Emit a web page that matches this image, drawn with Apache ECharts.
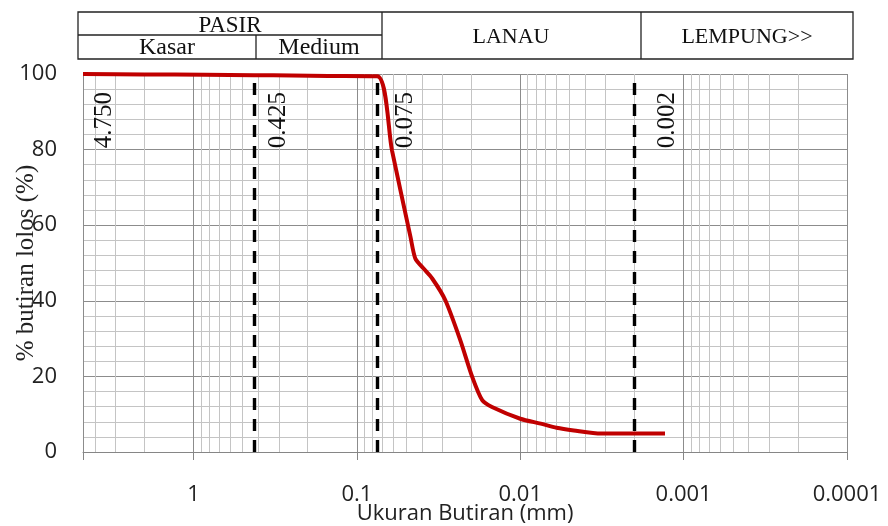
<!DOCTYPE html>
<html>
<head>
<meta charset="utf-8">
<script src="https://cdn.jsdelivr.net/npm/echarts@6/dist/echarts.min.js"></script>
<style>
  html, body { margin: 0; padding: 0; background: #ffffff; }
  #chart { width: 888px; height: 526px; }
</style>
</head>
<body>
<div id="chart"></div>
<script>
// Grain size distribution: sieve + hydrometer results
const grainSize = [4.75, 2.0, 0.85, 0.425, 0.25, 0.15, 0.075, 0.061, 0.047, 0.0439, 0.0392,
  0.0346, 0.0288, 0.0233, 0.0197, 0.0171, 0.0149, 0.0100, 0.0075, 0.0060, 0.0047, 0.0032, 0.0013];
const percentPassing = [100, 99.9, 99.8, 99.7, 99.6, 99.5, 99.4, 79.8, 56.9, 51.2, 48.6,
  45.9, 40.2, 29.6, 19.9, 13.7, 11.9, 8.8, 7.5, 6.4, 5.7, 4.9, 4.9];

// Soil class boundaries (mm)
const boundarySizes = [4.75, 0.425, 0.075, 0.002];
const boundaryLabels = ['4.750', '0.425', '0.075', '0.002'];

// Axis ticks
const xTickValues = [1, 0.1, 0.01, 0.001, 0.0001];
const xTickLabels = ['1', '0.1', '0.01', '0.001', '0.0001'];
const minorMultiples = [2, 3, 4, 5, 6, 7, 8, 9];
const yTickStep = 20;

// Header table labels
const headerSand = 'PASIR';
const headerSandParts = ['Kasar', 'Medium'];
const headerSilt = 'LANAU';
const headerClay = 'LEMPUNG>>';

const X_MIN = 0.0001, X_MAX = 4.75;

// Minor vertical grid lines at 2..9 of every decade inside the range
const minorX = [];
xTickValues.forEach(function (d) {
  minorMultiples.forEach(function (m) {
    const v = d * m;
    if (v < X_MAX) minorX.push(v);
  });
});

const serif = '"Liberation Serif", "Times New Roman", serif';
const sans = '"Open Sans", "Noto Sans", sans-serif';

// gap between each boundary line and its rotated label (px)
const boundaryLabelGap = [9, 12, 16, 20];

const chart = echarts.init(document.getElementById('chart'));

const lineCol = '#222';
const hdr = [
  { type: 'rect', shape: { x: 78, y: 12, width: 775, height: 47 }, style: { fill: 'none', stroke: lineCol, lineWidth: 1.3 } },
  { type: 'line', shape: { x1: 78, y1: 35, x2: 382, y2: 35 }, style: { stroke: lineCol, lineWidth: 1.3 } },
  { type: 'line', shape: { x1: 256, y1: 35, x2: 256, y2: 59 }, style: { stroke: lineCol, lineWidth: 1.3 } },
  { type: 'line', shape: { x1: 382, y1: 12, x2: 382, y2: 59 }, style: { stroke: lineCol, lineWidth: 1.3 } },
  { type: 'line', shape: { x1: 641, y1: 12, x2: 641, y2: 59 }, style: { stroke: lineCol, lineWidth: 1.3 } }
];
function hdrText(txt, x, y, size) {
  return { type: 'text', x: x, y: y, style: { text: txt, fontFamily: serif, fontSize: size, fill: '#111',
    align: 'center', verticalAlign: 'middle', textAlign: 'center', textVerticalAlign: 'middle' } };
}
hdr.push(hdrText(headerSand, 230, 26, 23));
hdr.push(hdrText(headerSandParts[0], 167, 48, 24));
hdr.push(hdrText(headerSandParts[1], 319, 48, 24));
hdr.push(hdrText(headerSilt, 511, 37, 22));
hdr.push(hdrText(headerClay, 747, 37, 22));

const option = {
  animation: false,
  backgroundColor: '#ffffff',
  graphic: hdr,
  grid: { left: 83, right: 41, top: 74, bottom: 74, containLabel: false, outerBoundsMode: 'none' },
  xAxis: {
    type: 'log',
    logBase: 10,
    min: X_MIN,
    max: X_MAX,
    inverse: true,
    axisLine: { show: true, lineStyle: { color: '#868686', width: 1 } },
    axisTick: { show: true, length: 8, lineStyle: { color: '#868686' } },
    axisLabel: {
      margin: 32, fontFamily: sans, fontSize: 22, color: '#222',
      formatter: function (v) {
        const k = xTickValues.findIndex(function (t) { return Math.abs(Math.log10(v) - Math.log10(t)) < 1e-6; });
        return k >= 0 ? xTickLabels[k] : '';
      }
    },
    splitLine: { show: true, lineStyle: { color: '#8c8c8c', width: 1 } },
    name: 'Ukuran Butiran (mm)',
    nameLocation: 'middle',
    nameGap: 51,
    nameMoveOverlap: false,
    nameTextStyle: { fontFamily: sans, fontSize: 22, color: '#222' }
  },
  yAxis: {
    type: 'value',
    min: 0,
    max: 100,
    interval: yTickStep,
    axisLine: { show: false },
    axisTick: { show: false },
    axisLabel: { margin: 26, fontFamily: sans, fontSize: 22, color: '#222' },
    splitLine: { show: true, lineStyle: { color: '#8c8c8c', width: 1 } },
    minorTick: { show: false, splitNumber: 5 },
    minorSplitLine: { show: true, lineStyle: { color: '#c4c4c4', width: 1 } },
    name: '% butiran lolos (%)',
    nameLocation: 'middle',
    nameRotate: 90,
    nameGap: 44,
    nameMoveOverlap: false,
    nameTextStyle: { fontFamily: serif, fontSize: 25, color: '#222' }
  },
  series: [
    {
      // minor log grid
      type: 'line',
      data: [],
      silent: true,
      z: 1,
      markLine: {
        silent: true,
        precision: 8,
        symbol: ['none', 'none'],
        label: { show: false },
        lineStyle: { type: 'solid', color: '#c4c4c4', width: 1 },
        data: minorX.map(function (v) { return { xAxis: v }; })
      }
    },
    {
      // soil class boundaries
      type: 'line',
      data: [],
      silent: true,
      z: 3,
      markLine: {
        silent: true,
        precision: 8,
        symbol: ['none', 'none'],
        lineStyle: { type: [12, 9], color: '#000000', width: 3.4 },
        label: {
          show: true,
          position: 'insideEndBottom',
          formatter: '{b}',
          fontFamily: serif,
          fontSize: 25,
          color: '#111'
        },
        data: boundarySizes.map(function (v, i) {
          const item = { xAxis: v, name: boundaryLabels[i], label: { distance: [18, boundaryLabelGap[i]] } };
          if (v === X_MAX) item.lineStyle = { color: 'rgba(0,0,0,0)' };
          return item;
        })
      }
    },
    {
      type: 'line',
      data: grainSize.map(function (x, i) { return [x, percentPassing[i]]; }),
      smooth: 0.25,
      showSymbol: false,
      symbol: 'none',
      z: 5,
      lineStyle: { color: '#C00000', width: 4 }
    }
  ]
};
chart.setOption(option);
</script>
</body>
</html>
